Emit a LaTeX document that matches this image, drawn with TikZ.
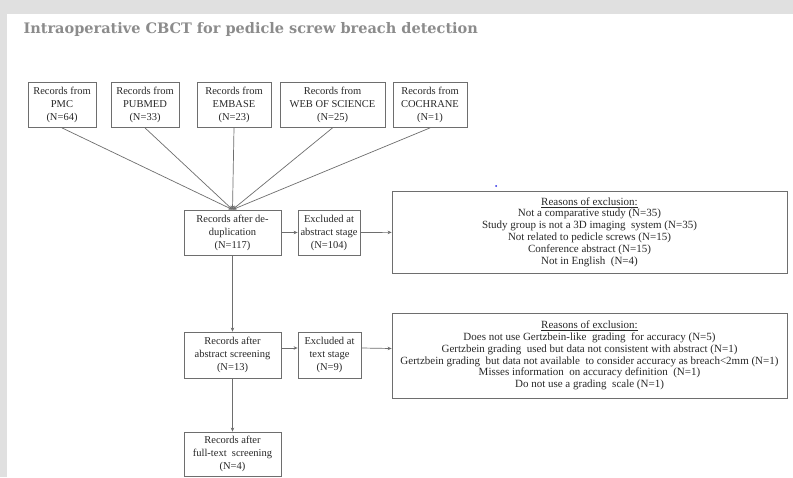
\documentclass[tikz,border=0pt]{standalone}
\usepackage{fontspec}
\usepackage{xcolor}
\usepackage{tikz}
\usetikzlibrary{arrows.meta}
\setmainfont{Liberation Serif}
\newfontfamily\titlefont{DejaVu Serif}
\definecolor{framegray}{RGB}{224,224,224}
\definecolor{titlegray}{RGB}{140,140,140}
\definecolor{boxline}{RGB}{110,110,110}
\definecolor{boxtext}{RGB}{40,40,40}
\definecolor{dotblue}{RGB}{40,40,230}

\begin{document}
\begin{tikzpicture}[x=1pt,y=-1pt,
  flowbox/.style={draw=boxline,line width=0.8pt,text=boxtext,align=center,
    inner sep=1pt,minimum height=45pt,font=\fontsize{10.5}{13}\selectfont},
  reasonbox/.style={draw=boxline,line width=0.8pt,text=boxtext,align=center,
    inner sep=1pt,minimum width=395pt,font=\fontsize{11}{11.8}\selectfont},
  link/.style={draw=boxline,line width=0.7pt,-{Stealth[length=4pt,width=3.5pt]}}]
\useasboundingbox (0,0) rectangle (793,477);
% Draw the gray frame
\fill[framegray] (0,0) rectangle (793,477);
\fill[white] (7,14) rectangle (793,477);
% Title
\node[anchor=west,text=titlegray,font=\titlefont\bfseries\fontsize{14.5}{16}\selectfont] (title) at (20,29) {Intraoperative CBCT for pedicle screw breach detection};
% Source databases
\node[flowbox,minimum width=68pt] (pmc) at (62,105) {Records from\\PMC\\(N=64)};
\node[flowbox,minimum width=68pt] (pubmed) at (145,105) {Records from\\PUBMED\\(N=33)};
\node[flowbox,minimum width=74pt] (embase) at (234,105) {Records from\\EMBASE\\(N=23)};
\node[flowbox,minimum width=105pt] (wos) at (332.5,105) {Records from\\WEB OF SCIENCE\\(N=25)};
\node[flowbox,minimum width=74pt] (cochrane) at (430,105) {Records from\\COCHRANE\\(N=1)};
% Screening steps
\node[flowbox,minimum width=97pt] (dedup) at (232.5,232.5) {Records after de-\\duplication\\(N=117)};
\node[flowbox,minimum width=62pt] (exclabs) at (329,232.5) {Excluded at\\abstract stage\\(N=104)};
\node[reasonbox,minimum height=82pt] (reasonsabs) at (589.5,232) {\underline{Reasons of exclusion:}\\
  Not a comparative study (N=35)\\
  Study group is not a 3D imaging~ system (N=35)\\
  Not related to pedicle screws (N=15)\\
  Conference abstract (N=15)\\
  Not in English~ (N=4)};
\node[flowbox,minimum width=97pt,minimum height=46pt] (absscr) at (232.5,355) {Records after\\abstract screening\\(N=13)};
\node[flowbox,minimum width=63pt,minimum height=46pt] (excltext) at (329.5,355) {Excluded at\\text stage\\(N=9)};
\node[reasonbox,minimum height=85pt] (reasonstext) at (589.5,355.5) {\underline{Reasons of exclusion:}\\
  Does not use Gertzbein-like~ grading~ for accuracy (N=5)\\
  Gertzbein grading~ used but data not consistent with abstract (N=1)\\
  Gertzbein grading~ but data not available~ to consider accuracy as breach<2mm (N=1)\\
  Misses information~ on accuracy definition~ (N=1)\\
  Do not use a grading~ scale (N=1)};
\node[flowbox,minimum width=97pt,minimum height=44pt] (fulltext) at (232.5,454) {Records after\\full-text~ screening\\(N=4)};
% Stray dot
\fill[dotblue] (496,186) circle (1);
% Connectors
\foreach \src in {pmc,pubmed,embase,wos,cochrane}
  \draw[link] (\src.south) -- (dedup.north);
\draw[link] (dedup) -- (exclabs);
\draw[link] (exclabs) -- (reasonsabs);
\draw[link] (dedup) -- (absscr);
\draw[link] ([yshift=7pt]absscr.east) -- ([yshift=7pt]excltext.west);
\draw[link] ([yshift=7pt]excltext.east) -- ([yshift=7pt]reasonstext.west);
\draw[link] (absscr) -- (fulltext);
\end{tikzpicture}
\end{document}
